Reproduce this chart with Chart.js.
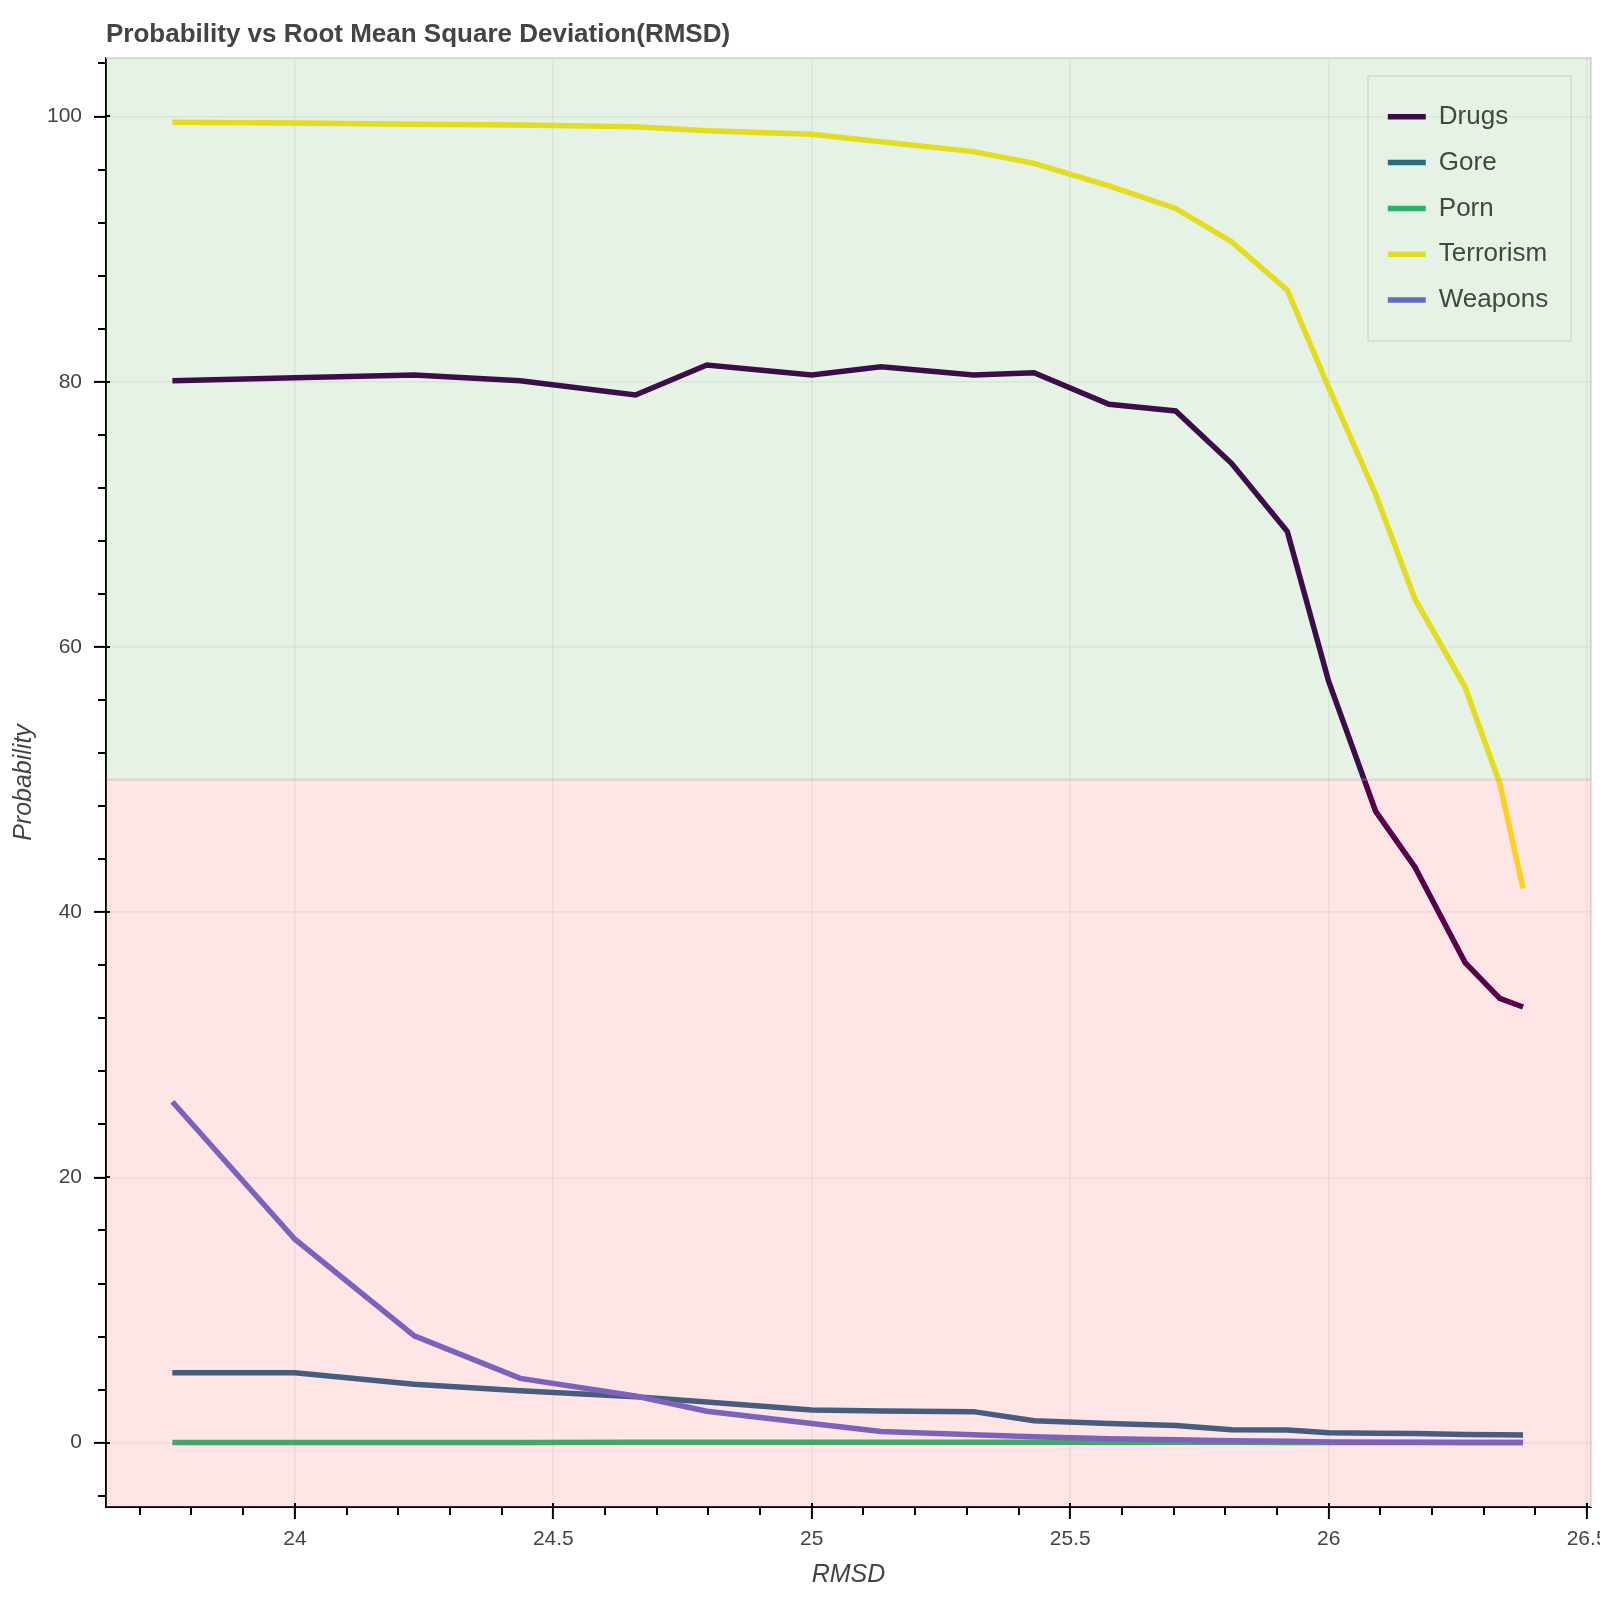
<!DOCTYPE html>
<html>
<head>
<meta charset="utf-8">
<title>Probability vs RMSD</title>
<script src="https://cdn.jsdelivr.net/npm/chart.js@4.4.1/dist/chart.umd.min.js"></script>
<style>
    html, body { margin: 0; padding: 0; background: #fff; }
    #wrap { width: 1600px; height: 1600px; }
</style>
</head>
<body>
<div id="wrap"><canvas id="rmsdChart" width="1600" height="1600"></canvas></div>
<script>
// --- data ---
const rmsd = [23.763, 24.0, 24.231, 24.436, 24.659, 24.797, 25.0, 25.134, 25.313, 25.430,
              25.575, 25.704, 25.812, 25.920, 26.0, 26.091, 26.167, 26.264, 26.331, 26.376];

const drugs     = [80.08, 80.3, 80.5, 80.08, 79.0, 81.26, 80.5, 81.13, 80.5, 80.68,
                   78.3, 77.8, 73.85, 68.7, 57.4, 47.6, 43.4, 36.2, 33.5, 32.85];
const gore      = [5.28, 5.28, 4.4, 3.92, 3.47, 3.07, 2.47, 2.38, 2.34, 1.66,
                   1.45, 1.3, 0.98, 0.96, 0.75, 0.71, 0.69, 0.62, 0.6, 0.58];
const porn      = [0.01, 0.02, 0.02, 0.02, 0.03, 0.03, 0.03, 0.04, 0.04, 0.04,
                   0.03, 0.03, 0.03, 0.02, 0.02, 0.02, 0.01, 0.01, 0.01, 0.01];
const terrorism = [99.56, 99.5, 99.41, 99.36, 99.23, 98.93, 98.66, 98.1, 97.35, 96.47,
                   94.76, 93.07, 90.56, 86.9, 79.55, 71.5, 63.6, 56.96, 49.7, 41.8];
const weapons   = [25.71, 15.34, 8.05, 4.85, 3.52, 2.37, 1.45, 0.84, 0.6, 0.45,
                   0.3, 0.22, 0.15, 0.1, 0.06, 0.04, 0.03, 0.02, 0.01, 0.01];

const categories = ['Drugs', 'Gore', 'Porn', 'Terrorism', 'Weapons'];
const xTicks = [24, 24.5, 25, 25.5, 26, 26.5];
const yTicks = [0, 20, 40, 60, 80, 100];
const threshold = 50;

document.addEventListener('DOMContentLoaded', () => {

    const FONT = "'Liberation Sans', Arial, Helvetica, sans-serif";
    const TEXT = '#444444';

    // --- 1. series ---
    const seriesValues = [drugs, gore, porn, terrorism, weapons];
    const seriesColors = ['#440154', '#31688E', '#35B779', '#FDE725', '#6E6ED2'];

    const datasets = categories.map((name, i) => ({
        label: name,
        data: rmsd.map((x, j) => ({ x: x, y: seriesValues[i][j] })),
        borderColor: seriesColors[i],
        backgroundColor: seriesColors[i],
        borderWidth: 5.5,
        pointRadius: 0,
        tension: 0,
        borderJoinStyle: 'miter',
        order: categories.length - i   // later series drawn on top
    }));

    // --- 2. plugins ---
    // legend box sits inside the plot, top right
    const legendInside = {
        id: 'legendInside',
        afterUpdate(chart) {
            const lg = chart.legend;
            const a = chart.chartArea;
            lg.left = a.right - 223;
            lg.right = a.right - 20;
            lg.width = lg.right - lg.left;
            lg.top = a.top + 26;
            lg.bottom = a.bottom;
            lg.height = lg.bottom - lg.top;
        }
    };

    // plot outline (top and right edges) + legend frame
    const outline = {
        id: 'outline',
        beforeDatasetsDraw(chart) {
            const { ctx, chartArea: a } = chart;
            ctx.save();
            ctx.strokeStyle = '#e5e5e5';
            ctx.lineWidth = 2;
            ctx.beginPath();
            ctx.moveTo(a.left, a.top);
            ctx.lineTo(a.right, a.top);
            ctx.lineTo(a.right, a.bottom);
            ctx.stroke();
            ctx.strokeStyle = 'rgba(0,0,0,0.07)';
            ctx.strokeRect(a.right - 223, a.top + 18, 203, 265);
            ctx.restore();
        }
    };

    // green / red bands laid over everything, like the box annotations
    const bands = {
        id: 'bands',
        afterDraw(chart) {
            const { ctx, chartArea: a, scales: { y } } = chart;
            const yMid = y.getPixelForValue(threshold);
            ctx.save();
            ctx.beginPath();
            ctx.rect(a.left, a.top, a.right - a.left, a.bottom - a.top);
            ctx.clip();
            ctx.fillStyle = 'rgba(0,128,0,0.1)';
            ctx.fillRect(a.left, a.top, a.right - a.left, yMid - a.top);
            ctx.fillStyle = 'rgba(255,0,0,0.1)';
            ctx.fillRect(a.left, yMid, a.right - a.left, a.bottom - yMid);
            ctx.strokeStyle = 'rgba(170,170,170,0.2)';
            ctx.lineWidth = 2;
            ctx.strokeRect(a.left, a.top, a.right - a.left, yMid - a.top);
            ctx.strokeRect(a.left, yMid, a.right - a.left, a.bottom - yMid);
            ctx.restore();
        }
    };

    // minor ticks and the short inner part of major ticks
    const minorTicks = {
        id: 'minorTicks',
        afterDraw(chart) {
            const { ctx, chartArea: a, scales: { x, y } } = chart;
            ctx.save();
            ctx.strokeStyle = '#000';
            ctx.lineWidth = 2;
            ctx.beginPath();
            for (let i = 237; i <= 265; i++) {
                const px = Math.round(x.getPixelForValue(i / 10));
                if (i % 5 === 0) {
                    ctx.moveTo(px, a.bottom);
                    ctx.lineTo(px, a.bottom - 4);
                } else {
                    ctx.moveTo(px, a.bottom);
                    ctx.lineTo(px, a.bottom + 8);
                }
            }
            for (let v = -4; v <= 104; v += 4) {
                const py = Math.round(y.getPixelForValue(v));
                if (v % 20 === 0) {
                    ctx.moveTo(a.left, py);
                    ctx.lineTo(a.left + 4, py);
                } else {
                    ctx.moveTo(a.left, py);
                    ctx.lineTo(a.left - 8, py);
                }
            }
            ctx.stroke();
            ctx.restore();
        }
    };

    // --- 3. chart ---
    const ctx = document.getElementById('rmsdChart');
    new Chart(ctx, {
        type: 'line',
        data: { datasets: datasets },
        plugins: [legendInside, outline, bands, minorTicks],
        options: {
            responsive: false,
            devicePixelRatio: 1,
            animation: false,
            layout: { padding: { left: 0, right: 9, top: 0, bottom: 0 } },
            plugins: {
                title: {
                    display: true,
                    text: 'Probability vs Root Mean Square Deviation(RMSD)',
                    align: 'start',
                    fullSize: false,
                    color: TEXT,
                    font: { family: FONT, size: 26, weight: 'bold', lineHeight: 1.2 },
                    padding: { top: 19, bottom: 7.8 }
                },
                legend: {
                    position: 'chartArea',
                    align: 'start',
                    labels: {
                        usePointStyle: true,
                        pointStyle: 'line',
                        pointStyleWidth: 38,
                        boxHeight: 26,
                        padding: 19.8,
                        color: TEXT,
                        font: { family: FONT, size: 26, lineHeight: 1 },
                        sort: (a, b) => a.datasetIndex - b.datasetIndex
                    }
                },
                tooltip: { enabled: false }
            },
            scales: {
                x: {
                    type: 'linear',
                    min: 23.6346,
                    max: 26.5075,
                    afterBuildTicks: s => { s.ticks = xTicks.map(v => ({ value: v })); },
                    afterFit: s => { s.height = 93; s.paddingLeft = 0; s.paddingRight = 0; },
                    border: { display: true, color: '#000', width: 2 },
                    grid: {
                        color: 'rgba(0,0,0,0.05)',
                        lineWidth: 1.8,
                        tickColor: '#000',
                        tickWidth: 2,
                        tickLength: 12
                    },
                    ticks: {
                        color: TEXT,
                        padding: 8,
                        maxRotation: 0,
                        autoSkip: false,
                        font: { family: FONT, size: 21 },
                        callback: v => String(v)
                    },
                    title: {
                        display: true,
                        text: 'RMSD',
                        color: TEXT,
                        padding: 10,
                        font: { family: FONT, size: 25, style: 'italic', lineHeight: 1.2 }
                    }
                },
                y: {
                    type: 'linear',
                    min: -4.85,
                    max: 104.41,
                    afterBuildTicks: s => { s.ticks = yTicks.map(v => ({ value: v })); },
                    afterFit: s => { s.width = 106; s.paddingTop = 0; s.paddingBottom = 0; },
                    border: { display: true, color: '#000', width: 2 },
                    grid: {
                        color: 'rgba(0,0,0,0.05)',
                        lineWidth: 1.8,
                        tickColor: '#000',
                        tickWidth: 2,
                        tickLength: 12
                    },
                    ticks: {
                        color: TEXT,
                        padding: 12,
                        autoSkip: false,
                        font: { family: FONT, size: 21 },
                        callback: v => String(v)
                    },
                    title: {
                        display: true,
                        text: 'Probability',
                        color: TEXT,
                        padding: 9,
                        font: { family: FONT, size: 25, style: 'italic', lineHeight: 1.2 }
                    }
                }
            }
        }
    });
});
</script>
</body>
</html>
